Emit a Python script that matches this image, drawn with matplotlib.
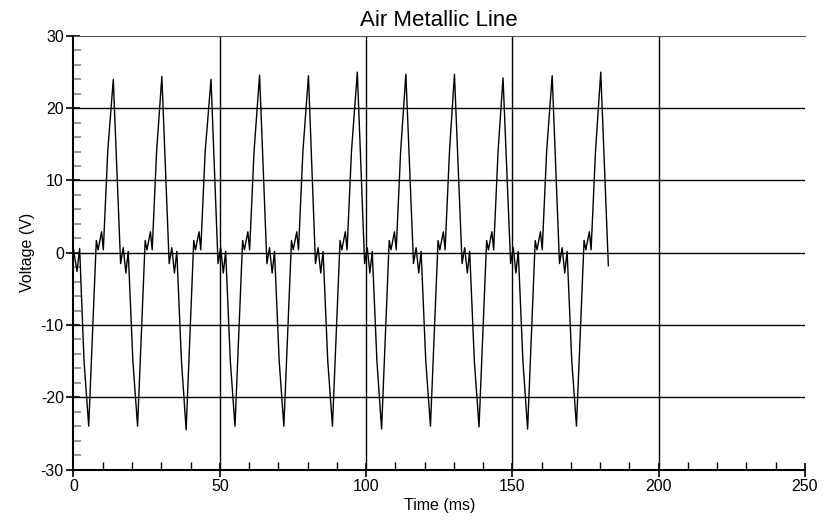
import numpy as np
import matplotlib
matplotlib.use('Agg')
import matplotlib.pyplot as plt
from matplotlib.ticker import MultipleLocator

plt.rcParams['font.family'] = ['Liberation Sans', 'DejaVu Sans']
plt.rcParams['axes.unicode_minus'] = False

# waveform samples, one row per cycle (ms, V)
time_ms = [
    0.0, 1.2, 2.1, 3.6, 5.2, 7.8, 8.4, 9.6, 10.2, 11.7, 13.6,
    16.1, 17.0, 17.9, 18.7, 20.3, 21.9, 24.5, 25.1, 26.3, 26.9, 28.4, 30.2,
    32.7, 33.6, 34.5, 35.3, 36.9, 38.5, 41.1, 41.7, 42.9, 43.5, 45.0, 47.0,
    49.4, 50.3, 51.2, 52.0, 53.6, 55.2, 57.8, 58.4, 59.6, 60.2, 61.7, 63.6,
    66.1, 67.0, 67.9, 68.7, 70.3, 71.9, 74.5, 75.1, 76.3, 76.9, 78.4, 80.3,
    82.7, 83.6, 84.5, 85.3, 86.9, 88.5, 91.1, 91.7, 92.9, 93.5, 95.0, 97.0,
    99.5, 100.4, 101.3, 102.1, 103.7, 105.3, 107.9, 108.5, 109.7, 110.3, 111.8, 113.6,
    116.2, 117.1, 118.0, 118.8, 120.4, 122.0, 124.6, 125.2, 126.4, 127.0, 128.5, 130.2,
    132.8, 133.7, 134.6, 135.4, 137.0, 138.6, 141.2, 141.8, 143.0, 143.6, 145.1, 146.8,
    149.4, 150.3, 151.2, 152.0, 153.6, 155.2, 157.8, 158.4, 159.6, 160.2, 161.7, 163.6,
    166.1, 167.0, 167.9, 168.7, 170.3, 171.9, 174.5, 175.1, 176.3, 176.9, 178.4, 180.2,
    182.8,
]
voltage = [
    0.5, -2.6, 0.6, -15.0, -24.0, 1.7, 0.4, 2.9, 0.4, 14.0, 24.0,
    -1.5, 0.7, -2.8, 0.2, -15.0, -24.0, 1.7, 0.4, 2.9, 0.4, 14.0, 24.4,
    -1.5, 0.7, -2.8, 0.2, -15.0, -24.5, 1.7, 0.4, 2.9, 0.4, 14.0, 24.0,
    -1.5, 0.7, -2.8, 0.2, -15.0, -24.0, 1.7, 0.4, 2.9, 0.4, 14.0, 24.6,
    -1.5, 0.7, -2.8, 0.2, -15.0, -24.0, 1.7, 0.4, 2.9, 0.4, 14.0, 24.5,
    -1.5, 0.7, -2.8, 0.2, -15.0, -24.0, 1.7, 0.4, 2.9, 0.4, 14.0, 25.0,
    -1.5, 0.7, -2.8, 0.2, -15.0, -24.4, 1.7, 0.4, 2.9, 0.4, 14.0, 24.7,
    -1.5, 0.7, -2.8, 0.2, -15.0, -24.0, 1.7, 0.4, 2.9, 0.4, 14.0, 24.7,
    -1.5, 0.7, -2.8, 0.2, -15.0, -24.1, 1.7, 0.4, 2.9, 0.4, 14.0, 24.2,
    -1.5, 0.7, -2.8, 0.2, -15.0, -24.4, 1.7, 0.4, 2.9, 0.4, 14.0, 24.5,
    -1.5, 0.7, -2.8, 0.2, -15.0, -24.0, 1.7, 0.4, 2.9, 0.4, 14.0, 25.0,
    -1.8,
]

x_grid = [50, 100, 150, 200]
y_grid = [-20, -10, 0, 10, 20]

fig = plt.figure(figsize=(8.38, 5.2), dpi=100)
ax = fig.add_axes([0.0877, 0.0971, 0.8729, 0.8337])

for x in x_grid:
    ax.axvline(x, color='black', lw=1.0, zorder=1)
for y in y_grid:
    ax.axhline(y, color='black', lw=1.0, zorder=1)

ax.plot(time_ms, voltage, color='black', lw=1.0, zorder=3)

ax.set_xlim(0, 250)
ax.set_ylim(-30, 30)
ax.set_xticks(range(0, 251, 50))
ax.set_yticks(range(-30, 31, 10))
ax.xaxis.set_minor_locator(MultipleLocator(10))
ax.yaxis.set_minor_locator(MultipleLocator(2))
ax.tick_params(which='major', direction='inout', length=10, width=1.2,
               labelsize=11.5, pad=2)
ax.tick_params(axis='x', which='minor', direction='in', length=6, width=1, color='black')
ax.tick_params(axis='y', which='minor', direction='in', length=6, width=1.2, color='#888888')

ax.spines['right'].set_visible(False)
ax.spines['top'].set_color('#555555')
ax.spines['left'].set_linewidth(1.5)
ax.spines['bottom'].set_linewidth(1.5)

ax.set_xlabel('Time (ms)', fontsize=11.5, labelpad=3)
ax.set_ylabel('Voltage (V)', fontsize=11.5, labelpad=4)
ax.set_title('Air Metallic Line', fontsize=16, pad=7)

fig.savefig('out.png', dpi=100)
